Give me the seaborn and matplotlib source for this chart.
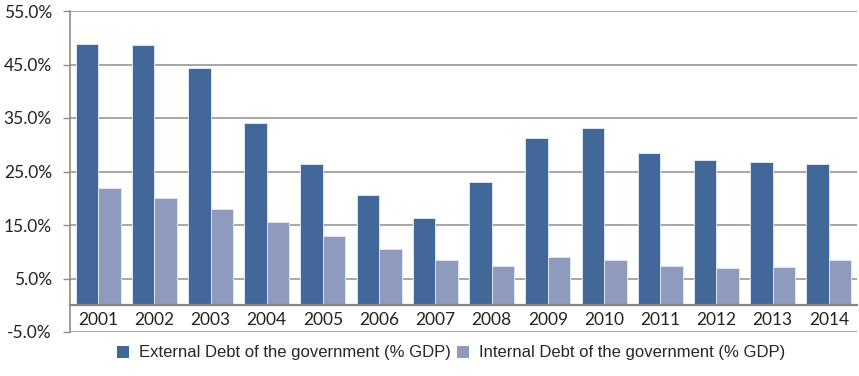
import pandas as pd
import numpy as np
import matplotlib
matplotlib.use("Agg")
import matplotlib.pyplot as plt
import seaborn as sns
from matplotlib.ticker import FuncFormatter, FixedLocator
from matplotlib.patches import Patch

# datos (% del PIB)
years = ['2001', '2002', '2003', '2004', '2005', '2006', '2007',
         '2008', '2009', '2010', '2011', '2012', '2013', '2014']
external = [48.9, 48.7, 44.3, 34.1, 26.4, 20.7, 16.4, 23.1, 31.3, 33.2, 28.4, 27.2, 26.7, 26.4]
internal = [21.9, 20.0, 17.9, 15.6, 12.9, 10.6, 8.4, 7.3, 9.1, 8.4, 7.3, 6.9, 7.2, 8.4]
series_names = ['External Debt of the government (% GDP)',
                'Internal Debt of the government (% GDP)']
y_ticks = [-5, 5, 15, 25, 35, 45, 55]

df = pd.DataFrame({
    'Year': years * 2,
    'Value': external + internal,
    'Serie': [series_names[0]] * len(years) + [series_names[1]] * len(years),
})

sns.set_style("white")
plt.rcParams['font.family'] = ['Lato', 'DejaVu Sans']

fig = plt.figure(figsize=(8.59, 3.76), dpi=100)
ax = fig.add_axes([70 / 859, 1 - 332 / 376, 787 / 859, 321 / 376])

colores = ['#426799', '#8E9BBD']
sns.barplot(data=df, x='Year', y='Value', hue='Serie', order=years,
            hue_order=series_names, palette=colores, saturation=1, width=0.8,
            edgecolor='#dfe5ee', linewidth=0.7, ax=ax, legend=False, zorder=3)

ax.set_ylim(-5, 55)
ax.set_xlim(-0.5, len(years) - 0.5)
ax.yaxis.set_major_locator(FixedLocator(y_ticks))
ax.yaxis.set_major_formatter(FuncFormatter(lambda v, p: f'{v:.1f}%'))
ax.yaxis.grid(True, color='#979797', linewidth=1.2, zorder=0)
ax.set_axisbelow(True)

# eje x en el cero, etiquetas entre 0 y -5
for s in ['top', 'right']:
    ax.spines[s].set_visible(False)
ax.spines['bottom'].set_position(('data', 0))
ax.spines['bottom'].set_color('#858585')
ax.spines['bottom'].set_linewidth(1.6)
ax.spines['bottom'].set_zorder(4)
ax.spines['left'].set_color('#8c8c8c')
ax.spines['left'].set_linewidth(1.2)

ax.set_xticks(np.arange(len(years)))
ax.set_xticklabels(years)
ax.set_xticks(np.arange(len(years) - 1) + 0.5, minor=True)
ax.tick_params(axis='x', which='major', length=0, pad=5, labelsize=12.5, labelcolor='#222222')
ax.tick_params(axis='x', which='minor', length=3.5, width=1, color='#8c8c8c', direction='out')
ax.tick_params(axis='y', length=5, width=1, color='#8c8c8c', left=True, pad=8,
               labelsize=12.5, labelcolor='#222222')
ax.set_xlabel('')
ax.set_ylabel('')

# leyenda
handles = [Patch(facecolor=c, edgecolor='none') for c in colores]
fig.legend(handles, series_names, loc='center', bbox_to_anchor=(451 / 859, 1 - 353 / 376),
           ncol=2, frameon=False, handlelength=0.7, handleheight=0.7, handletextpad=0.6,
           columnspacing=0.4, prop={'family': 'Liberation Sans', 'size': 12})

plt.savefig('out.png', dpi=100)
plt.close()
